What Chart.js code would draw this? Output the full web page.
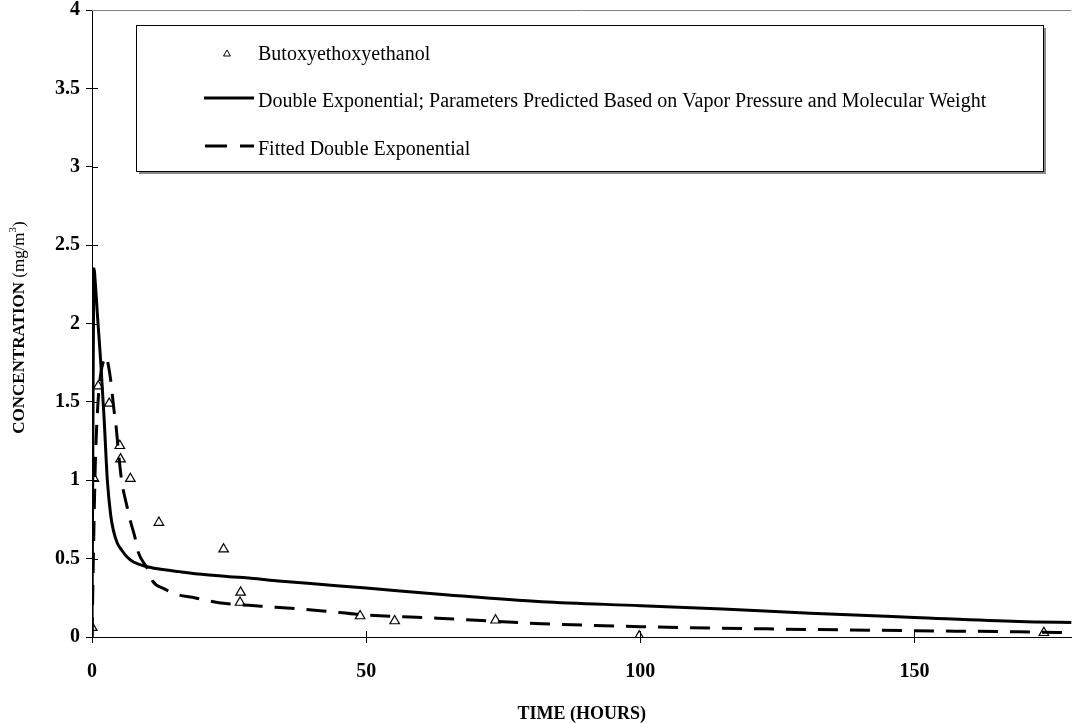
<!DOCTYPE html>
<html>
<head>
<meta charset="utf-8">
<title>Butoxyethoxyethanol concentration over time</title>
<script src="https://cdn.jsdelivr.net/npm/chart.js@4.4.1/dist/chart.umd.min.js"></script>
<style>
  html, body { margin: 0; padding: 0; background: #ffffff; }
  #wrap { width: 1078px; height: 723px; }
</style>
</head>
<body>
<div id="wrap"><canvas id="chart" width="1078" height="723"></canvas></div>
<script>
// ---- data -------------------------------------------------------------
const seriesLabels = [
  'Butoxyethoxyethanol',
  'Double Exponential; Parameters Predicted Based on Vapor Pressure and Molecular Weight',
  'Fitted Double Exponential'
];

// measured chamber concentrations (hours, mg/m3)
const measuredHours = [0.05, 0.36, 1.14, 3.14, 5.07, 5.2, 7.0, 12.2, 24.0, 27.1, 27.0, 48.9, 55.2, 73.6, 99.8, 173.6];
const measuredConc  = [0.06, 1.01, 1.60, 1.49, 1.22, 1.135, 1.01, 0.73, 0.56, 0.285, 0.22, 0.134, 0.102, 0.107, 0.005, 0.027];

// double exponential with predicted parameters
const predictedHours = [0, 0.1, 0.2, 0.3, 0.36, 0.6, 1.0, 1.6, 2.2, 2.8, 3.4, 3.9, 4.6, 5.4, 6.4, 7.5, 9.9, 12, 15.9, 20, 25, 29, 34, 42, 50, 65, 82, 100, 115, 131, 150, 169, 180];
const predictedConc  = [0, 0.8, 1.6, 2.2, 2.35, 2.26, 2.05, 1.75, 1.4, 1.0, 0.78, 0.68, 0.6, 0.555, 0.51, 0.48, 0.45, 0.435, 0.417, 0.4, 0.385, 0.375, 0.358, 0.335, 0.312, 0.268, 0.225, 0.2, 0.178, 0.152, 0.125, 0.099, 0.092];

// fitted double exponential
const fittedHours = [0, 0.3, 0.6, 1.1, 1.6, 2.2, 2.6, 3.0, 3.4, 4.0, 4.4, 4.8, 5.4, 6.4, 7.0, 7.8, 8.4, 10.2, 11.1, 13, 15.9, 18.3, 21.9, 24.4, 28.6, 33.5, 41.6, 50, 63, 82, 100, 131, 150, 169, 180];
const fittedConc  = [0, 0.6, 1.1, 1.5, 1.68, 1.77, 1.79, 1.73, 1.64, 1.45, 1.34, 1.19, 1.0, 0.83, 0.74, 0.64, 0.545, 0.43, 0.355, 0.31, 0.268, 0.254, 0.226, 0.213, 0.202, 0.19, 0.168, 0.14, 0.12, 0.085, 0.066, 0.048, 0.04, 0.033, 0.026];

// axis ticks
const xTickValues = [0, 50, 100, 150];
const yTickValues = [0, 0.5, 1, 1.5, 2, 2.5, 3, 3.5, 4];

// ---- helpers ----------------------------------------------------------
const pairs = (xs, ys) => xs.map((x, i) => ({ x: x, y: ys[i] }));
const SERIF = '"Liberation Serif", "Times New Roman", Times, serif';

// tick marks that cross the axis lines (inner half; Chart.js draws the outer half)
const crossTicks = {
  id: 'crossTicks',
  afterDraw(chart) {
    const { ctx, chartArea, scales } = chart;
    ctx.save();
    ctx.strokeStyle = '#000';
    ctx.lineWidth = 1;
    ctx.beginPath();
    scales.x.ticks.forEach(t => {
      const px = Math.round(scales.x.getPixelForValue(t.value)) + 0.5;
      ctx.moveTo(px, chartArea.bottom);
      ctx.lineTo(px, chartArea.bottom - 6);
    });
    scales.y.ticks.forEach(t => {
      const py = Math.round(scales.y.getPixelForValue(t.value)) + 0.5;
      ctx.moveTo(chartArea.left, py);
      ctx.lineTo(chartArea.left + 6, py);
    });
    ctx.stroke();
    // grey frame line along the top of the plot area
    ctx.strokeStyle = '#808080';
    ctx.beginPath();
    ctx.moveTo(chartArea.left, chartArea.top + 0.5);
    ctx.lineTo(chartArea.right, chartArea.top + 0.5);
    ctx.stroke();
    ctx.restore();
  }
};

// axis titles (the y title mixes bold, regular and a superscript)
const axisTitles = {
  id: 'axisTitles',
  afterDraw(chart) {
    const { ctx, chartArea } = chart;
    ctx.save();
    ctx.fillStyle = '#000';
    ctx.textBaseline = 'alphabetic';
    // x title
    ctx.font = 'bold 18px ' + SERIF;
    ctx.textAlign = 'center';
    ctx.fillText('TIME (HOURS)', (chartArea.left + chartArea.right) / 2, 719);
    // y title, rotated
    const parts = [
      { t: 'CONCENTRATION', f: 'bold 17px ' + SERIF, dy: 0 },
      { t: ' (mg/m', f: '17px ' + SERIF, dy: 0 },
      { t: '3', f: '11px ' + SERIF, dy: -8 },
      { t: ')', f: '17px ' + SERIF, dy: 0 }
    ];
    let total = 0;
    parts.forEach(p => { ctx.font = p.f; p.w = ctx.measureText(p.t).width; total += p.w; });
    ctx.translate(24, (chartArea.top + chartArea.bottom) / 2 + 4);
    ctx.rotate(-Math.PI / 2);
    ctx.textAlign = 'left';
    let cx = -total / 2;
    parts.forEach(p => { ctx.font = p.f; ctx.fillText(p.t, cx, p.dy); cx += p.w; });
    ctx.restore();
  }
};

// boxed legend inside the plot area
const boxLegend = {
  id: 'boxLegend',
  afterDatasetsDraw(chart) {
    const ctx = chart.ctx;
    const box = { x: 136, y: 25, w: 907, h: 146 };
    const rows = [55, 102, 150];
    ctx.save();
    ctx.fillStyle = '#8a8a8a';
    ctx.fillRect(box.x + 3, box.y + 3, box.w, box.h);
    ctx.fillStyle = '#ffffff';
    ctx.fillRect(box.x, box.y, box.w, box.h);
    ctx.strokeStyle = '#000';
    ctx.lineWidth = 1;
    ctx.strokeRect(box.x + 0.5, box.y + 0.5, box.w, box.h);

    const ds = chart.data.datasets;
    // marker for measured points
    ctx.strokeStyle = '#000';
    ctx.fillStyle = 'rgba(0,0,0,0)';
    Chart.helpers.drawPoint(ctx, {
      pointStyle: 'triangle', radius: 4, borderWidth: 1, rotation: 0
    }, 227, rows[0] - 1);

    // solid line sample
    ctx.lineWidth = ds[1].borderWidth;
    ctx.setLineDash([]);
    ctx.beginPath();
    ctx.moveTo(204, rows[1] - 4);
    ctx.lineTo(254, rows[1] - 4);
    ctx.stroke();

    // dashed line sample
    ctx.lineWidth = ds[2].borderWidth;
    ctx.beginPath();
    ctx.moveTo(205, rows[2] - 4);
    ctx.lineTo(227, rows[2] - 4);
    ctx.moveTo(240, rows[2] - 4);
    ctx.lineTo(254, rows[2] - 4);
    ctx.stroke();

    ctx.fillStyle = '#000';
    ctx.font = '20px ' + SERIF;
    ctx.textAlign = 'left';
    ctx.textBaseline = 'middle';
    ds.forEach((d, i) => ctx.fillText(d.label, 258, rows[i]));
    ctx.restore();
  }
};

// ---- chart ------------------------------------------------------------
new Chart(document.getElementById('chart'), {
  type: 'scatter',
  data: {
    datasets: [
      {
        label: seriesLabels[0],
        data: pairs(measuredHours, measuredConc),
        showLine: false,
        pointStyle: 'triangle',
        pointRadius: 5.5,
        pointBorderWidth: 1.2,
        borderColor: '#000',
        backgroundColor: 'rgba(255,255,255,0)'
      },
      {
        label: seriesLabels[1],
        data: pairs(predictedHours, predictedConc),
        showLine: true,
        borderColor: '#000',
        borderWidth: 3,
        pointRadius: 0,
        cubicInterpolationMode: 'monotone',
        fill: false
      },
      {
        label: seriesLabels[2],
        data: pairs(fittedHours, fittedConc),
        showLine: true,
        borderColor: '#000',
        borderWidth: 3,
        borderDash: [20, 12],
        pointRadius: 0,
        cubicInterpolationMode: 'monotone',
        fill: false
      }
    ]
  },
  options: {
    responsive: false,
    animation: false,
    layout: { padding: { top: 10, right: 0, bottom: 0, left: 0 } },
    plugins: {
      legend: { display: false },
      tooltip: { enabled: false }
    },
    scales: {
      x: {
        type: 'linear',
        min: 0,
        max: 178.6,
        afterFit(scale) {
          scale.height = 86;
          scale.paddingLeft = 0;
          scale.paddingRight = 0;
        },
        afterBuildTicks(scale) { scale.ticks = xTickValues.map(v => ({ value: v })); },
        border: { display: true, color: '#000', width: 1 },
        grid: { display: true, drawOnChartArea: false, drawTicks: true, tickLength: 6, color: '#000' },
        ticks: {
          color: '#000',
          padding: 17,
          maxRotation: 0,
          font: { family: SERIF, size: 20, weight: 'bold' },
          callback: v => String(v)
        }
      },
      y: {
        type: 'linear',
        min: 0,
        max: 4,
        afterFit(scale) {
          scale.width = 92;
          scale.paddingTop = 0;
          scale.paddingBottom = 0;
        },
        afterBuildTicks(scale) { scale.ticks = yTickValues.map(v => ({ value: v })); },
        border: { display: true, color: '#000', width: 1 },
        grid: { display: true, drawOnChartArea: false, drawTicks: true, tickLength: 6, color: '#000' },
        ticks: {
          color: '#000',
          padding: 6,
          font: { family: SERIF, size: 20, weight: 'bold' },
          callback: v => String(v)
        }
      }
    }
  },
  plugins: [crossTicks, axisTitles, boxLegend]
});
</script>
</body>
</html>
